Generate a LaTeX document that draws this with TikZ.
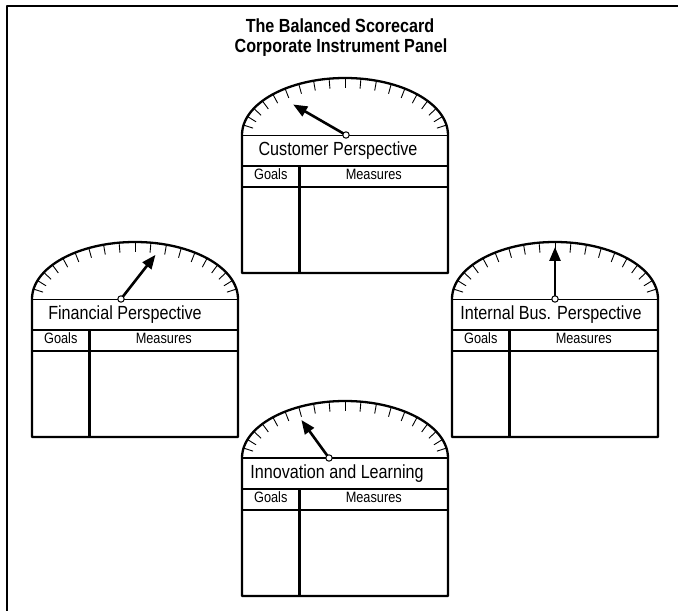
\documentclass[tikz,border=0pt]{standalone}
\usepackage{fontspec}
\setmainfont{Liberation Sans}[FakeStretch=0.85]
\usepackage{tikz}
\usetikzlibrary{arrows.meta}

\begin{document}
\begin{tikzpicture}[x=1pt,y=1pt,line join=round,
  rim/.style={line width=2.3pt},
  gaugetick/.style={line width=0.9pt},
  needle/.style={line width=2.6pt,-{Triangle[length=14pt,width=11pt]}},
  pivot/.style={fill=white,line width=1pt},
  lbl/.style={anchor=base,font=\fontsize{19}{22}\selectfont},
  colhead/.style={anchor=base,font=\fontsize{15}{17}\selectfont}]
\useasboundingbox(0,0)rectangle(678,611);
\draw[line width=1.6pt](7,0)--(7,605)--(678,605);
\node[anchor=base,font=\bfseries\fontsize{19}{22}\selectfont](title1)at(340,578){The Balanced Scorecard};
\node[anchor=base,font=\bfseries\fontsize{19}{22}\selectfont](title2)at(341,558){Corporate Instrument Panel};
\foreach \px/\py/\ang/\len/\pdx/\ldx/\txt/\bw [count=\i] in {
  242/476/150/61/1/-7/Customer Perspective/0.8pt,
  32/312/52/56/-14/-10/Financial Perspective/0.8pt,
  452/312/90/52/0/-4/Internal Bus. Perspective/0.8pt,
  242/153/126/47/-16/-8/Innovation and Learning/2.3pt}
{
\begin{scope}[shift={(\px,\py)}]
\draw[rim](0,-138)--(0,0)arc[start angle=180,end angle=0,x radius=103pt,y radius=57pt]--(206,-138)--cycle;
\foreach \k in {0,...,18}{
  \pgfmathsetmacro\s{10+\k*160/18}
  \pgfmathsetmacro\nn{sqrt((57*cos(\s))^2+(103*sin(\s))^2)}
  \draw[gaugetick]({103+103*cos(\s)},{57*sin(\s)})--++({-10*57*cos(\s)/\nn},{-10*103*sin(\s)/\nn});
}
\draw[line width=\bw](0,0)--(206,0);
\draw[rim](0,-31)--(206,-31)(0,-52)--(206,-52)(57.5,-31)--(57.5,-138);
\node[lbl](persp\i)at(103+\ldx,-21){\txt};
\node[colhead](goals\i)at(28.75,-45){Goals};
\node[colhead](meas\i)at(131.75,-45){Measures};
\coordinate(hub\i)at(103+\pdx,0);
\draw[needle](hub\i)--++(\ang:\len);
\draw[pivot](hub\i)circle(3.2pt);
\end{scope}
}
\end{tikzpicture}
\end{document}
